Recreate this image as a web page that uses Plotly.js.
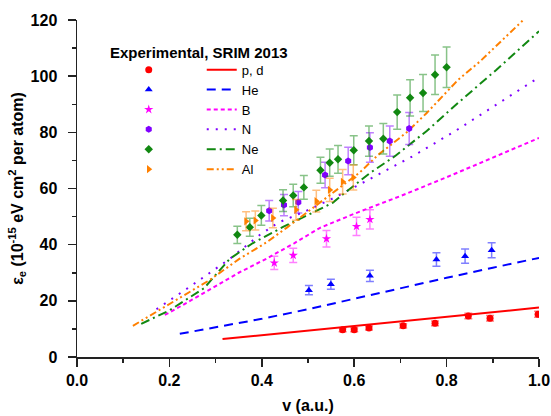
<!DOCTYPE html>
<html><head><meta charset="utf-8">
<script src="https://cdn.plot.ly/plotly-3.0.1.min.js"></script>
<style>html,body{margin:0;padding:0;background:#fff}#chart{width:551px;height:416px}</style>
</head><body><div id="chart"></div>
<script>
// ---- Experimental points (SRIM 2013 database) ----
const pdExpV = [0.575,0.600,0.632,0.706,0.775,0.847,0.894,0.998];
const pdExpE = [9.7,9.7,10.3,11.1,12.0,14.6,13.8,15.2];
const heExpV = [0.502,0.5495,0.634,0.778,0.840,0.8975];
const heExpE = [23.8,25.9,28.9,34.7,35.9,38.0];
const bExpV = [0.427,0.468,0.540,0.605,0.634];
const bExpE = [33.5,36.2,42.1,46.5,49.0];
const nExpV = [0.416,0.448,0.479,0.537,0.587,0.634,0.677,0.719];
const nExpE = [52.1,54.1,55.1,64.8,69.8,74.6,76.9,81.4];
const neExpV = [0.347,0.374,0.399,0.446,0.468,0.491,0.527,0.547,0.565,0.599,0.632,0.663,0.693,0.721,0.749,0.775,0.800];
const neExpE = [43.5,46.2,50.4,55.7,57.5,60.4,66.5,69.2,70.4,73.6,76.9,77.7,87.2,92.3,94.0,100.5,103.2];
const alExpV = [0.366,0.386,0.424,0.474,0.518,0.547,0.575,0.598];
const alExpE = [48.3,48.6,49.5,52.4,55.5,59.5,62.4,63.9];
const expErrPercent = 7;

// ---- Theory curves ----
const pdThV = [0.315,0.4,0.5,0.6,0.7,0.8,0.9,1.0];
const pdThE = [6.4,7.8,9.4,11.0,12.7,14.3,16.0,17.6];
const heThV = [0.2225,0.3,0.4,0.5,0.6,0.7,0.8,0.9,1.0];
const heThE = [8.25,10.6,13.6,17.0,20.8,24.5,28.2,31.8,35.3];
const bThV = [0.19,0.2,0.25,0.302,0.35,0.41,0.47,0.526,0.6,0.7,0.8,0.9,1.0];
const bThE = [15.0,15.8,20.5,25.5,30.0,35.0,40.5,46.0,51.0,57.3,64.0,71.0,78.0];
const nThV = [0.172,0.2,0.244,0.28,0.331,0.396,0.435,0.497,0.558,0.634,0.728,0.822,0.894,0.984,1.0];
const nThE = [17.0,20.0,25.0,29.1,35.0,43.5,47.8,52.1,56.8,63.4,71.6,80.8,88.5,98.2,99.6];
const neThV = [0.139,0.2,0.275,0.331,0.38,0.417,0.446,0.518,0.554,0.587,0.634,0.688,0.757,0.825,0.908,1.0];
const neThE = [11.8,16.6,24.5,35.0,40.5,43.9,46.3,52.0,55.0,59.4,65.5,71.5,80.5,90.5,102.3,116.0];
const alThV = [0.121,0.2,0.287,0.352,0.41,0.4535,0.533,0.612,0.652,0.713,0.757,0.825,0.872,0.966];
const alThE = [11.1,18.8,27.4,35.0,40.8,46.0,55.8,65.7,72.0,79.9,86.9,98.7,105.2,120.0];

const labels = ['p, d','He','B','N','Ne','Al'];
const colors = ['#ff0000','#0000ff','#ff00ff','#8000ff','#118811','#ff8000'];
const errColors = ['rgba(255,0,0,0.5)','rgba(0,0,255,0.5)','rgba(255,0,255,0.5)','rgba(128,0,255,0.5)','rgba(17,136,17,0.5)','rgba(255,128,0,0.5)'];
const symbols = ['circle','triangle-up','star','hexagon','diamond','triangle-right'];
const sizes = [7,7,7,7,6.5,7];
const dashes = ['solid','9px,6px','4px,3px','2px,7px','9px,4px,2px,4px','7px,3px,2px,3px,2px,3px'];

const expV = [pdExpV,heExpV,bExpV,nExpV,neExpV,alExpV];
const expE = [pdExpE,heExpE,bExpE,nExpE,neExpE,alExpE];
const thV = [pdThV,heThV,bThV,nThV,neThV,alThV];
const thE = [pdThE,heThE,bThE,nThE,neThE,alThE];

const FONT = 'Liberation Sans, Arial, sans-serif';
const traces = [];
for (let i = 0; i < 6; i++) {
  traces.push({
    x: thV[i], y: thE[i], type: 'scatter', mode: 'lines', name: labels[i],
    legend: 'legend2', line: {color: colors[i], width: 2, dash: dashes[i]},
    hoverinfo: 'skip'
  });
}
for (let i = 0; i < 6; i++) {
  traces.push({
    x: expV[i], y: expE[i], type: 'scatter', mode: 'markers', name: ' ',
    legend: 'legend', marker: {color: colors[i], symbol: symbols[i], size: sizes[i]},
    error_y: {type: 'percent', value: expErrPercent, color: errColors[i], thickness: 1.5, width: 4},
    cliponaxis: true
  });
}

const axisCommon = {
  showline: true, linecolor: '#222', linewidth: 1.5, mirror: false,
  showgrid: false, zeroline: false, tickcolor: '#222', tickwidth: 1.5
};
const layout = {
  width: 551, height: 416,
  margin: {l: 77, r: 12, t: 18, b: 59},
  paper_bgcolor: '#fff', plot_bgcolor: '#fff',
  font: {family: FONT, color: '#000'},
  xaxis: Object.assign({}, axisCommon, {
    range: [0, 1], dtick: 0.2, tickformat: '.1f', ticks: 'outside', ticklen: 8,
    minor: {dtick: 0.1, ticks: 'outside', ticklen: 4, tickcolor: '#222', tickwidth: 1.5},
    tickfont: {size: 16, weight: 'bold', family: FONT},
    title: {text: 'v (a.u.)', font: {size: 16, weight: 'bold', family: FONT}, standoff: 12}
  }),
  yaxis: Object.assign({}, axisCommon, {
    range: [0, 120], dtick: 20, ticks: 'outside', ticklen: 8, ticklabelstandoff: 7,
    automargin: true,
    minor: {dtick: 10, ticks: 'outside', ticklen: 4, tickcolor: '#222', tickwidth: 1.5},
    tickfont: {size: 16, weight: 'bold', family: FONT},
    title: {text: 'ε<sub>e</sub> (10<sup>-15</sup> eV cm<sup>2</sup> per atom)', font: {size: 16, weight: 'bold', family: FONT}, standoff: 3}
  }),
  xaxis2: Object.assign({}, axisCommon, {
    overlaying: 'x', side: 'top', anchor: 'y', range: [0, 1], dtick: 0.2,
    ticks: 'inside', ticklen: 7, showticklabels: false,
    minor: {dtick: 0.1, ticks: 'inside', ticklen: 4, tickcolor: '#222', tickwidth: 1.5}
  }),
  yaxis2: Object.assign({}, axisCommon, {
    overlaying: 'y', side: 'right', anchor: 'x', range: [0, 120], dtick: 20,
    ticks: 'inside', ticklen: 7, showticklabels: false,
    minor: {dtick: 10, ticks: 'inside', ticklen: 4, tickcolor: '#222', tickwidth: 1.5}
  }),
  legend: {
    x: 0.112, xanchor: 'left', y: 0.897, yanchor: 'top',
    bgcolor: 'rgba(0,0,0,0)', font: {size: 13, family: FONT}, tracegroupgap: 0
  },
  legend2: {
    x: 0.270, xanchor: 'left', y: 0.897, yanchor: 'top',
    bgcolor: 'rgba(0,0,0,0)', font: {size: 13, family: FONT}, tracegroupgap: 0
  },
  annotations: [{
    text: 'Experimental, SRIM 2013', xref: 'paper', yref: 'paper',
    x: 0.0665, y: 0.9044, xanchor: 'left', yanchor: 'middle', showarrow: false,
    font: {size: 15, weight: 'bold', family: FONT}
  }],
  showlegend: true
};
Plotly.newPlot('chart', traces, layout, {displayModeBar: false, staticPlot: true});
</script></body></html>
